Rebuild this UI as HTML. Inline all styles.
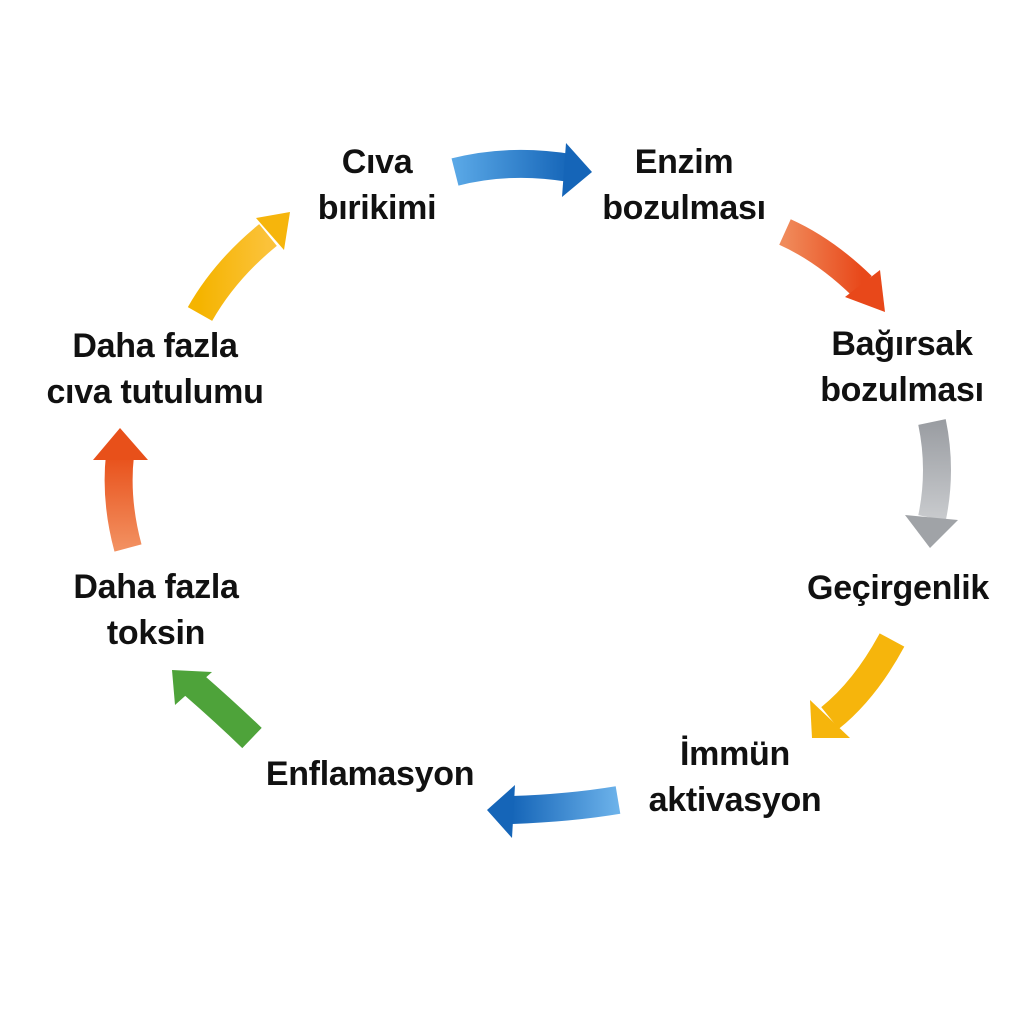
<!DOCTYPE html>
<html><head><meta charset="utf-8"><style>
html,body{margin:0;padding:0;background:#fff}
body{width:1024px;height:1024px;position:relative;overflow:hidden}
.t{position:absolute;font-family:"Liberation Sans","DejaVu Sans",sans-serif;font-weight:bold;font-size:34px;line-height:46px;color:#111;text-align:center;white-space:nowrap;transform:translateX(-50%);letter-spacing:-0.3px}
</style></head><body>
<svg width="1024" height="1024" style="position:absolute;left:0;top:0">
<defs>
<linearGradient id="b1" x1="0" x2="1"><stop offset="0" stop-color="#5aa8e6"/><stop offset="1" stop-color="#1565b8"/></linearGradient>
<linearGradient id="o1" x1="0" x2="1"><stop offset="0" stop-color="#f08a5a"/><stop offset="1" stop-color="#e8481a"/></linearGradient>
<linearGradient id="g1" x1="0" y1="0" x2="0" y2="1"><stop offset="0" stop-color="#9a9da2"/><stop offset="1" stop-color="#c8cacd"/></linearGradient>
<linearGradient id="y1" x1="0" x2="1"><stop offset="0" stop-color="#f5b400"/><stop offset="1" stop-color="#fbc23a"/></linearGradient>
<linearGradient id="b2" x1="1" x2="0"><stop offset="0" stop-color="#6cb2ea"/><stop offset="1" stop-color="#1565b8"/></linearGradient>
<linearGradient id="r2" x1="0" y1="1" x2="0" y2="0"><stop offset="0" stop-color="#f29060"/><stop offset="1" stop-color="#e8501a"/></linearGradient>
</defs>
<g fill="none" stroke-width="28" stroke-linecap="butt">
<path d="M455,172 Q510,158 570,168" stroke="url(#b1)"/>
<path d="M785,232 Q825,250 862,286" stroke="url(#o1)"/>
<path d="M932,422 Q942,470 932,518" stroke="url(#g1)"/>
<path d="M892,640 Q865,690 830,718" stroke="#f6b50c"/>
<path d="M618,800 Q570,808 512,810" stroke="url(#b2)"/>
<path d="M252,738 Q225,712 194,685" stroke="#4ea33a"/>
<path d="M128,548 Q115,500 120,455" stroke="url(#r2)"/>
<path d="M200,314 Q225,270 268,235" stroke="url(#y1)"/>
</g>
<polygon points="566,143 592,172 562,197" fill="#1565b8"/>
<polygon points="845,297 885,312 880,270" fill="#e8481a"/>
<polygon points="905,515 930,548 958,520" fill="#a0a3a7"/>
<polygon points="810,700 812,738 850,738" fill="#f6b50c"/>
<polygon points="515,785 487,810 512,838" fill="#1565b8"/>
<polygon points="175,705 172,670 212,672" fill="#4ea33a"/>
<polygon points="93,460 120,428 148,460" fill="#e8501a"/>
<polygon points="256,218 290,212 284,250" fill="#f6b50c"/>
</svg>
<div class="t" style="left:377px;top:139px">Cıva<br>bırikimi</div>
<div class="t" style="left:684px;top:139px">Enzim<br>bozulması</div>
<div class="t" style="left:902px;top:321px">Bağırsak<br>bozulması</div>
<div class="t" style="left:898px;top:565px">Geçirgenlik</div>
<div class="t" style="left:735px;top:731px">İmmün<br>aktivasyon</div>
<div class="t" style="left:370px;top:751px">Enflamasyon</div>
<div class="t" style="left:156px;top:564px">Daha fazla<br>toksin</div>
<div class="t" style="left:155px;top:323px">Daha fazla<br>cıva tutulumu</div>
</body></html>
